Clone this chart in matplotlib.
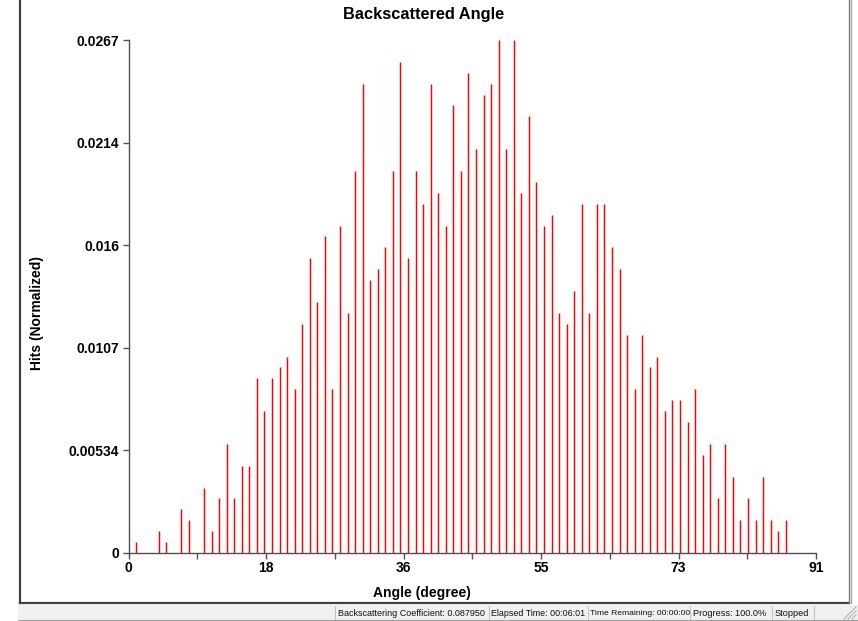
import matplotlib
matplotlib.use("Agg")
import matplotlib.pyplot as plt
import numpy as np
from matplotlib.lines import Line2D
from matplotlib.patches import Rectangle

# ---- data ----
angles = list(range(0, 91))
hits = [
    0.0, 0.000569, 0.0, 0.0, 0.001137, 0.000569, 0.0, 0.002274, 0.001706, 0.0,          # 0-9
    0.003411, 0.001137, 0.002843, 0.005685, 0.002843, 0.004548, 0.004548, 0.009096, 0.007391, 0.009096,  # 10-19
    0.009665, 0.010233, 0.008528, 0.011939, 0.015350, 0.013076, 0.016487, 0.008528, 0.017055, 0.012507,  # 20-29
    0.019898, 0.024446, 0.014213, 0.014781, 0.015918, 0.019898, 0.025583, 0.015350, 0.019898, 0.018192,  # 30-39
    0.024446, 0.018761, 0.017055, 0.023309, 0.019898, 0.025014, 0.021035, 0.023877, 0.024446, 0.026720,  # 40-49
    0.021035, 0.026720, 0.018761, 0.022740, 0.019329, 0.017055, 0.017624, 0.012507, 0.011939, 0.013644,  # 50-59
    0.018192, 0.012507, 0.018192, 0.018192, 0.015918, 0.014781, 0.011370, 0.008528, 0.011370, 0.009665,  # 60-69
    0.010233, 0.007391, 0.007959, 0.007959, 0.006822, 0.008528, 0.005117, 0.005685, 0.002843, 0.005685,  # 70-79
    0.003980, 0.001706, 0.002843, 0.001706, 0.003980, 0.001706, 0.001137, 0.001706, 0.0, 0.0, 0.0,        # 80-90
]
y_tick_labels = ["0", "0.00534", "0.0107", "0.016", "0.0214", "0.0267"]
x_tick_labels = ["0", "", "18", "", "36", "", "55", "", "73", "", "91"]
status_texts = ["Backscattering Coefficient: 0.087950", "Elapsed Time: 00:06:01",
                "Time Remaining: 00:00:00", "Progress: 100.0%", "Stopped"]

W, H = 858, 621
fig = plt.figure(figsize=(W / 100, H / 100), dpi=100)
fig.patch.set_facecolor("white")

# ---- background / window chrome ----
bg = fig.add_axes([0, 0, 1, 1], zorder=-5)
bg.set_xlim(0, W)
bg.set_ylim(H, 0)
bg.axis("off")
bg.add_line(Line2D([20, 20], [0, 603], color="#404040", lw=1.6))
bg.add_line(Line2D([20, 849], [603, 603], color="#404040", lw=1.6))
bg.add_line(Line2D([848.5, 848.5], [0, 603], color="#7a7a7a", lw=1.0))
bg.add_line(Line2D([851, 851], [0, 603], color="#a8a8a8", lw=1.0))
bg.add_patch(Rectangle((18, 604.5), W - 18, 16.5, facecolor="#f0f0f0", edgecolor="none"))
bg.add_line(Line2D([18, W], [619.5, 619.5], color="#a0a0a0", lw=0.8))
for sx in [335, 489, 588, 690, 772, 814]:
    bg.add_line(Line2D([sx, sx], [606, 619], color="#c4c4c4", lw=0.8))
for tx, t, fs in zip([338, 491, 590, 693, 775], status_texts, [6.45, 6.4, 6.1, 6.6, 6.6]):
    bg.text(tx, 613.5, t, fontsize=fs, family="Liberation Sans", color="#101010",
            ha="left", va="center")
for k in range(3):
    d = 4 * (k + 1)
    bg.add_line(Line2D([856 - d, 856], [619, 619 - d], color="#b0b0b0", lw=0.8))

# ---- main chart ----
ax = fig.add_axes([128.5 / W, 1 - 553 / H, (816 - 128.5) / W, (553 - 40) / H])
ymax = max(hits)
ax.vlines(angles, 0, hits, colors="#ff0000", linewidth=1.05)
ax.set_xlim(0, 91)
ax.set_ylim(0, ymax)

for s in ["top", "right"]:
    ax.spines[s].set_visible(False)
for s in ["left", "bottom"]:
    ax.spines[s].set_color("#505050")
    ax.spines[s].set_linewidth(1.0)

ax.set_xticks(np.linspace(0, 91, 11))
ax.set_xticklabels(x_tick_labels)
ax.set_yticks(np.linspace(0, ymax, 6))
ax.set_yticklabels(y_tick_labels)
ax.tick_params(axis="both", direction="out", length=4, width=1.0, color="#505050",
               labelsize=10, pad=2.5)
ax.tick_params(axis="x", pad=2.0)
for lab in ax.get_xticklabels() + ax.get_yticklabels():
    lab.set_fontfamily("Liberation Sans")
    lab.set_fontweight("bold")

fig.text(424 / W, 1 - 15 / H, "Backscattered Angle", ha="center", va="center",
         fontsize=11.8, fontweight="bold", family="Liberation Sans")
fig.text(421.5 / W, 1 - 593 / H, "Angle (degree)", ha="center", va="center",
         fontsize=10, fontweight="bold", family="Liberation Sans")
fig.text(37 / W, 1 - 313 / H, "Hits (Normalized)", ha="center", va="center",
         rotation=90, fontsize=10, fontweight="bold", family="Liberation Sans")

fig.savefig("out.png", dpi=100)
